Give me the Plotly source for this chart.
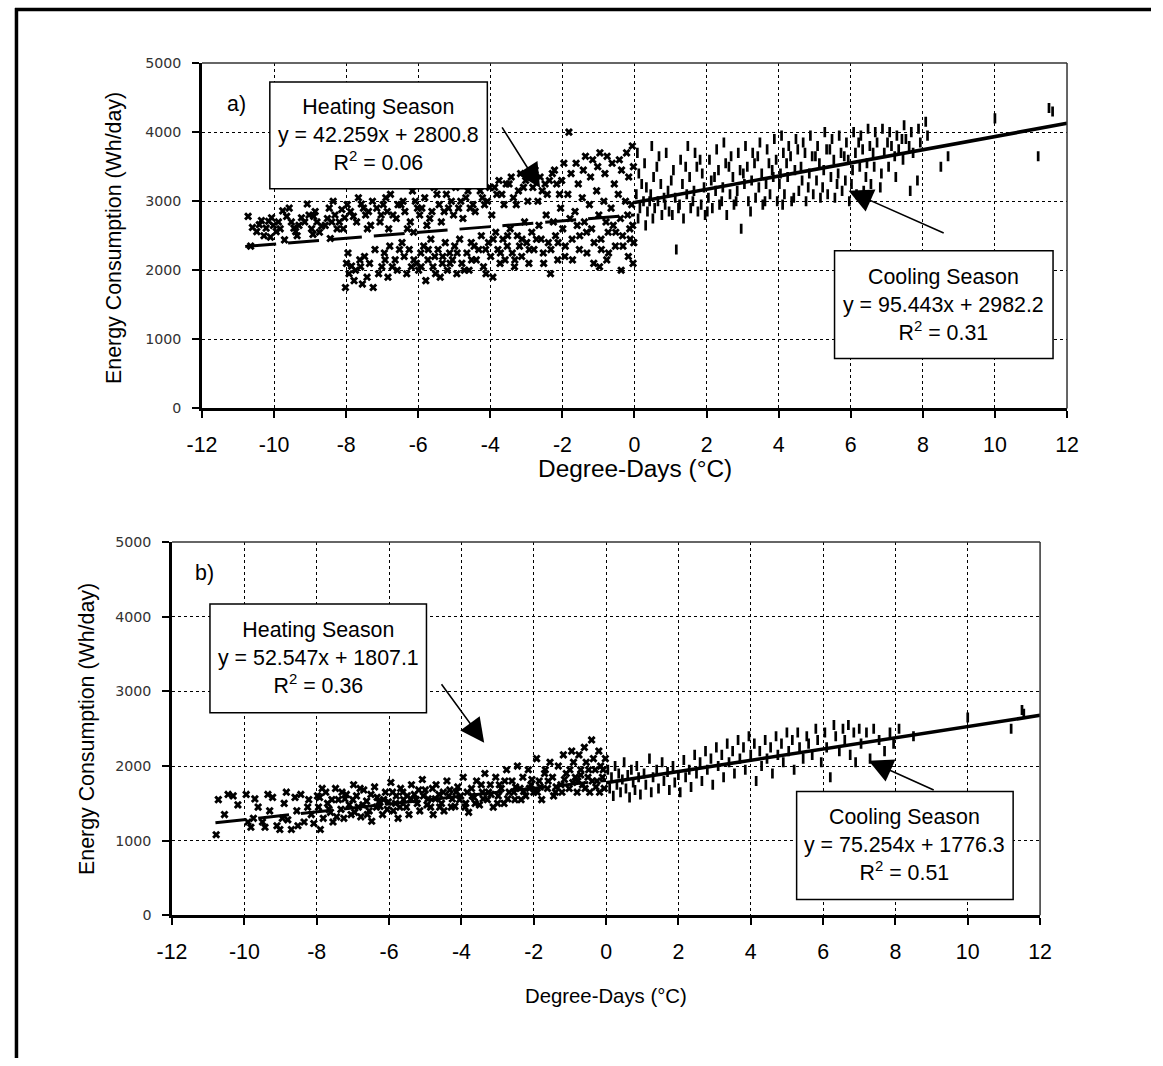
import plotly.graph_objects as go

W, H = 1163, 1066

# ---------------- data ----------------
heat_a = [(-10.72,2780),(-10.65,2350),(-10.48,2560),(-10.41,2660),(-10.22,2610),(-10.15,2710),(-10.28,2500),(-10.02,2650),(-9.94,2560),(-10.07,2760),(-9.83,2600),(-9.76,2860),(-9.71,2440),(-9.52,2700),(-9.45,2610),(-9.58,2900),(-9.31,2650),(-9.24,2760),(-9.36,2500),(-9.03,2800),(-8.96,2600),(-9.08,2960),(-8.92,2520),(-8.81,2700),(-8.74,2550),(-8.86,2850),(-8.52,2750),(-8.47,2900),(-8.58,2650),(-8.44,2460),(-8.31,2800),(-8.25,2600),(-8.36,3000),(-8.19,2700),(-8.04,2760),(-7.97,2950),(-8.08,2600),(-7.99,2100),(-8.02,1750),(-7.88,2850),(-7.85,2060),(-7.92,1950),(-7.71,2700),(-7.66,3050),(-7.74,2000),(-7.62,2150),(-7.52,2900),(-7.46,2800),(-7.55,1800),(-7.49,2200),(-7.41,2600),(-7.32,2650),(-7.27,3000),(-7.35,2100),(-7.25,1750),(-7.03,2800),(-6.97,2950),(-7.06,2700),(-6.94,2250),(-7.01,2050),(-6.82,2600),(-6.77,3100),(-6.86,2850),(-6.79,2350),(-6.84,1900),(-6.61,2750),(-6.56,2950),(-6.64,2150),(-6.58,2000),(-6.42,3000),(-6.37,2850),(-6.45,2400),(-6.39,2200),(-6.22,2700),(-6.16,3150),(-6.25,2300),(-6.19,2050),(-6.13,2550),(-6.02,2900),(-5.96,2800),(-6.05,2100),(-5.99,2000),(-5.93,2250),(-5.82,3050),(-5.76,2650),(-5.85,2350),(-5.79,1850),(-5.73,2150),(-5.62,2850),(-5.56,3200),(-5.65,2450),(-5.59,2050),(-5.54,2200),(-5.42,2950),(-5.36,2700),(-5.45,2300),(-5.39,1900),(-5.33,2100),(-5.22,3100),(-5.16,2900),(-5.25,2400),(-5.19,2000),(-5.13,2250),(-5.02,2800),(-4.96,3200),(-5.05,2150),(-4.99,2350),(-4.93,1950),(-4.82,3000),(-4.76,2750),(-4.85,2450),(-4.79,2100),(-4.62,3150),(-4.56,2900),(-4.65,2250),(-4.59,2000),(-4.53,2400),(-4.42,2850),(-4.36,3250),(-4.45,2350),(-4.39,2150),(-4.22,3050),(-4.16,2950),(-4.25,2500),(-4.19,2050),(-4.13,2300),(-4.02,3200),(-3.96,2800),(-4.05,2400),(-3.99,2200),(-3.93,1900),(-3.82,3100),(-3.76,3300),(-3.85,2550),(-3.79,2300),(-3.73,2100),(-3.62,2950),(-3.56,3250),(-3.65,2450),(-3.59,2150),(-3.53,2350),(-3.42,3350),(-3.36,3050),(-3.45,2600),(-3.39,2250),(-3.33,2050),(-3.22,3150),(-3.16,3400),(-3.25,2500),(-3.19,2350),(-3.13,2200),(-3.02,3300),(-2.96,3000),(-3.05,2700),(-2.99,2400),(-2.93,2100),(-2.82,3200),(-2.76,3450),(-2.85,2550),(-2.79,2300),(-2.62,3350),(-2.56,3150),(-2.65,2650),(-2.59,2450),(-2.53,2250),(-2.42,3100),(-2.36,3300),(-2.45,2800),(-2.39,2400),(-2.33,1950),(-2.22,3450),(-2.16,3250),(-2.25,2700),(-2.19,2500),(-2.13,2150),(-2.02,3300),(-1.96,3550),(-2.05,2900),(-1.99,2600),(-1.93,2200),(-1.82,4000),(-1.76,3400),(-1.85,3100),(-1.79,2750),(-1.73,2450),(-1.62,3550),(-1.56,3250),(-1.65,2850),(-1.59,2650),(-1.53,2300),(-1.42,3450),(-1.36,3650),(-1.45,3050),(-1.39,2700),(-1.33,2550),(-1.22,3350),(-1.16,3600),(-1.25,2950),(-1.19,2600),(-1.13,2100),(-1.02,3500),(-0.96,3700),(-1.05,3150),(-0.99,2800),(-0.93,2450),(-0.97,2050),(-0.82,3400),(-0.76,3650),(-0.85,3000),(-0.79,2700),(-0.73,2550),(-0.77,2150),(-0.62,3550),(-0.56,3250),(-0.65,2900),(-0.59,2650),(-0.53,2350),(-0.42,3600),(-0.36,3450),(-0.45,3100),(-0.39,2750),(-0.33,2500),(-0.37,2000),(-0.22,3700),(-0.16,3350),(-0.25,3000),(-0.19,2800),(-0.13,2600),(-0.17,2200),(-0.06,3800),(-0.03,3500),(-0.08,2950),(-0.05,2650),(-0.02,2400),(-0.04,2100),
          (-10.6,2620),(-10.35,2720),(-10.1,2480),(-9.88,2700),(-9.65,2780),(-9.4,2560),(-9.15,2700),(-8.9,2780),(-8.68,2640),(-8.4,2700),(-8.12,2880),(-7.8,2780),(-7.58,2960),(-7.38,2850),(-7.15,2900),(-6.9,3050),(-6.7,2800),(-6.48,2950),(-6.3,2600),(-6.08,3000),(-5.9,2900),(-5.68,2750),(-5.48,3100),(-5.28,2850),(-5.08,3000),(-4.88,2900),(-4.68,3050),(-4.48,2950),(-4.28,3150),(-4.08,3000),(-3.88,3200),(-3.68,3100),(-3.48,3250),(-3.28,2950),(-3.08,3200),(-2.88,3350),(-2.68,3000),(-2.48,3250),(-2.28,3400),(-2.08,3100),
          (-7.95,2250),(-7.78,1850),(-7.6,2050),(-7.42,1900),(-7.2,2300),(-7.1,1950),(-6.92,2150),(-6.72,2050),(-6.52,2300),(-6.32,1950),(-6.12,2150),(-5.92,2050),(-5.72,2300),(-5.52,1950),(-5.32,2200),(-5.12,2100),(-4.92,2250),(-4.72,2000),(-4.52,2150),(-4.32,2300),(-4.12,1950),(-3.92,2450),(-3.72,2250),(-3.52,2500),(-3.32,2150),(-3.12,2450),(-2.92,2300),(-2.72,2450),(-2.52,2100),(-2.32,2300),(-2.12,2400),(-1.92,2350),(-1.72,2150),(-1.52,2500),(-1.32,2250),(-1.12,2400),(-0.92,2300),(-0.72,2250),(-0.52,2550),(-0.32,2350),(-0.12,2450)]

cool_a = [(0.08,3700),(0.12,3400),(0.05,3100),(0.15,2900),(0.1,2750),(0.28,3550),(0.33,3200),(0.25,3000),(0.36,2850),(0.31,2650),(0.48,3800),(0.53,3350),(0.45,3100),(0.56,2900),(0.51,2750),(0.68,3650),(0.73,3250),(0.65,3000),(0.76,2800),(0.88,3700),(0.93,3150),(0.85,2950),(0.96,2850),(1.08,3450),(1.13,3050),(1.05,2800),(1.16,2300),(1.28,3600),(1.33,3250),(1.25,2950),(1.36,2750),(1.48,3800),(1.53,3350),(1.45,3100),(1.56,2900),(1.68,3700),(1.73,3500),(1.65,3150),(1.76,2850),(1.88,3400),(1.93,3200),(1.85,2950),(1.96,2800),(2.08,3600),(2.13,3300),(2.05,3050),(2.16,2900),(2.28,3750),(2.33,3450),(2.25,3150),(2.36,2950),(2.48,3850),(2.53,3550),(2.45,3200),(2.56,2800),(2.68,3650),(2.73,3350),(2.65,3100),(2.76,2950),(2.88,3700),(2.93,3450),(2.85,3150),(2.96,2600),(3.08,3800),(3.13,3500),(3.05,3250),(3.16,3000),(3.28,3700),(3.33,3550),(3.25,3300),(3.36,3050),(3.48,3850),(3.53,3400),(3.45,3200),(3.56,2950),(3.68,3750),(3.73,3550),(3.65,3250),(3.76,3100),(3.88,3900),(3.93,3600),(3.85,3350),(3.96,3000),(4.08,3950),(4.13,3700),(4.05,3400),(4.16,3100),(4.11,2950),(4.28,3800),(4.33,3650),(4.25,3350),(4.36,3000),(4.48,3900),(4.53,3750),(4.45,3450),(4.56,3150),(4.68,3850),(4.73,3700),(4.65,3300),(4.76,3000),(4.88,3950),(4.93,3650),(4.85,3400),(4.96,3100),(5.08,3800),(5.13,3550),(5.05,3300),(5.16,3050),(5.28,4000),(5.33,3750),(5.25,3450),(5.36,3100),(5.48,3900),(5.53,3600),(5.45,3350),(5.56,3050),(5.68,3950),(5.73,3700),(5.65,3400),(5.76,3150),(5.88,3850),(5.93,3600),(5.85,3300),(5.96,3000),(6.08,4000),(6.13,3700),(6.05,3450),(6.16,3100),(6.28,3950),(6.33,3750),(6.25,3500),(6.36,3150),(6.48,4050),(6.53,3800),(6.45,3550),(6.56,3250),(6.68,4000),(6.73,3850),(6.65,3500),(6.88,4050),(6.93,3700),(6.85,3400),(7.08,4000),(7.13,3800),(7.05,3500),(7.28,3950),(7.33,3750),(7.25,3350),(7.48,4100),(7.53,3900),(7.45,3600),(7.68,4000),(7.73,3700),(7.65,3150),(7.88,4050),(7.93,3850),(7.85,3300),(8.08,4150),(8.13,3950),(8.5,3500),(8.7,3650),(10.0,4200),(11.2,3650),(11.5,4350),(11.6,4300),
          (0.2,3250),(0.42,3000),(0.62,3500),(0.82,3050),(1.02,3300),(1.22,2900),(1.42,3500),(1.62,3000),(1.82,3600),(2.02,2850),(2.22,3350),(2.42,3000),(2.62,3500),(2.82,3000),(3.02,3400),(3.22,2850),(3.42,3650),(3.62,3000),(3.82,3450),(4.02,3250),(4.22,3550),(4.42,3050),(4.62,3500),(4.82,3200),(5.02,3650),(5.22,3200),(5.42,3750),(5.62,3250),(5.82,3650),(6.02,3250),(6.22,3850),(6.42,3350),(6.62,3700),(6.82,3200),(7.02,3850),(7.22,3650),(7.42,3900),(7.62,3800)]

heat_b = [(-10.78,1080),(-10.72,1550),(-10.55,1350),(-10.45,1620),(-10.31,1600),(-10.18,1480),(-9.95,1620),(-9.9,1250),(-9.82,1180),(-9.71,1560),(-9.62,1450),(-9.5,1250),(-9.43,1180),(-9.35,1620),(-9.22,1580),(-9.1,1200),(-9.02,1150),(-8.95,1300),(-8.84,1650),(-8.8,1280),(-8.7,1150),(-8.6,1580),(-8.52,1200),(-8.44,1620),(-8.35,1250),(-8.22,1550),(-8.15,1350),(-8.08,1230),(-7.98,1600),(-7.95,1450),(-7.9,1150),(-7.82,1300),(-7.75,1650),(-7.7,1500),(-7.62,1380),(-7.55,1250),(-7.48,1700),(-7.4,1550),(-7.33,1420),(-7.25,1300),(-7.18,1620),(-7.1,1480),(-7.05,1350),(-6.98,1750),(-6.9,1600),(-6.85,1450),(-6.78,1320),(-6.7,1680),(-6.62,1530),(-6.55,1400),(-6.48,1260),(-6.4,1720),(-6.33,1580),(-6.25,1460),(-6.18,1350),(-6.1,1650),(-6.02,1520),(-5.95,1780),(-5.88,1400),(-5.8,1600),(-5.75,1300),(-5.68,1700),(-5.6,1550),(-5.52,1450),(-5.45,1350),(-5.38,1750),(-5.3,1620),(-5.22,1500),(-5.15,1400),(-5.08,1820),(-5.0,1680),(-4.92,1560),(-4.85,1450),(-4.78,1350),(-4.7,1750),(-4.62,1620),(-4.55,1500),(-4.48,1400),(-4.4,1800),(-4.32,1680),(-4.25,1560),(-4.18,1460),(-4.1,1720),(-4.02,1600),(-3.95,1850),(-3.88,1500),(-3.8,1380),(-3.72,1700),(-3.65,1580),(-3.58,1800),(-3.5,1480),(-3.42,1650),(-3.35,1900),(-3.28,1550),(-3.2,1750),(-3.12,1450),(-3.05,1850),(-2.98,1600),(-2.9,1700),(-2.82,1500),(-2.75,1950),(-2.68,1650),(-2.6,1800),(-2.52,1550),(-2.45,2000),(-2.38,1700),(-2.3,1850),(-2.22,1600),(-2.15,1950),(-2.08,1750),(-2.0,1650),(-1.92,2100),(-1.85,1800),(-1.78,1550),(-1.7,1900),(-1.62,1700),(-1.55,2050),(-1.48,1850),(-1.4,1650),(-1.32,2000),(-1.25,1750),(-1.18,2150),(-1.1,1900),(-1.02,1700),(-0.95,2200),(-0.9,2050),(-0.85,1850),(-0.8,1650),(-0.75,2150),(-0.7,1950),(-0.65,1750),(-0.6,2250),(-0.55,2050),(-0.5,1850),(-0.45,1650),(-0.4,2350),(-0.35,2100),(-0.3,1950),(-0.25,1800),(-0.2,2200),(-0.15,2000),(-0.1,1850),(-0.05,1700),(-0.02,2100),
          (-7.92,1580),(-7.66,1420),(-7.45,1320),(-7.22,1560),(-6.95,1380),(-6.72,1480),(-6.5,1620),(-6.28,1520),(-6.05,1420),(-5.82,1500),(-5.62,1650),(-5.4,1560),(-5.18,1680),(-4.95,1480),(-4.72,1560),(-4.5,1650),(-4.28,1450),(-4.05,1550),(-3.84,1650),(-3.62,1500),(-3.4,1560),(-3.18,1620),(-2.95,1750),(-2.72,1560),(-2.5,1720),(-2.28,1660),(-2.05,1820),(-1.82,1720),(-1.6,1800),(-1.38,1720),(-1.15,1820),(-0.92,1780),(-0.7,1880),(-0.48,1950),(-0.28,1720),(-0.08,1950),
          (-9.75,1300),(-9.3,1400),(-8.9,1500),(-8.55,1400),(-8.25,1450),(-7.85,1700),(-7.58,1550),(-7.3,1650),(-7.0,1550),(-6.8,1700),(-6.6,1350),(-6.35,1450),(-6.15,1550),(-5.9,1650),(-5.7,1450),(-5.5,1600),(-5.25,1550),(-5.05,1600),(-4.8,1700),(-4.6,1450),(-4.35,1600),(-4.15,1650),(-3.9,1450),(-3.7,1600),(-3.45,1750),(-3.25,1650),(-3.0,1500),(-2.8,1800),(-2.55,1650),(-2.35,1550),(-2.12,1700),(-1.9,1650),(-1.68,1950),(-1.45,1600),(-1.22,1650),(-1.0,1950),(-0.78,1800),(-0.58,1700),(-0.38,1800),(-0.18,1650)]

cool_b = [(0.05,1950),(0.1,1700),(0.15,1850),(0.2,1600),(0.25,2000),(0.3,1750),(0.35,1900),(0.4,1650),(0.45,1820),(0.5,2050),(0.55,1700),(0.6,1880),(0.65,1580),(0.7,1950),(0.75,1780),(0.8,1680),(0.85,2000),(0.9,1850),(0.95,1620),(1.05,1900),(1.1,1750),(1.2,2100),(1.25,1650),(1.3,1850),(1.4,1950),(1.45,1700),(1.55,2050),(1.6,1800),(1.7,1920),(1.75,1680),(1.85,2000),(1.9,1780),(2.0,1880),(2.05,1650),(2.15,2080),(2.2,1850),(2.3,1950),(2.35,1720),(2.45,2150),(2.5,1900),(2.6,2050),(2.65,1800),(2.75,2200),(2.8,1950),(2.9,2100),(2.95,1750),(3.05,2250),(3.1,2000),(3.2,2150),(3.25,1850),(3.35,2300),(3.4,2050),(3.5,2200),(3.55,1900),(3.65,2350),(3.7,2100),(3.8,2250),(3.85,1950),(3.95,2400),(4.0,2150),(4.1,2300),(4.15,1800),(4.25,2200),(4.3,2000),(4.4,2350),(4.45,2100),(4.55,2250),(4.6,1900),(4.7,2400),(4.75,2150),(4.85,2300),(4.9,2050),(5.0,2450),(5.05,2200),(5.15,2350),(5.2,1950),(5.3,2450),(5.35,2250),(5.45,2100),(5.55,2400),(5.6,2300),(5.7,2150),(5.8,2500),(5.85,2350),(5.95,2050),(6.05,2450),(6.1,2250),(6.2,1850),(6.3,2550),(6.35,2400),(6.45,2200),(6.55,2500),(6.6,2350),(6.7,2550),(6.75,2150),(6.85,2450),(6.9,2050),(7.0,2500),(7.05,2300),(7.2,2450),(7.3,2100),(7.4,2500),(7.55,2350),(7.7,2200),(7.85,2450),(7.95,2300),(8.1,2500),(8.5,2400),(10.0,2650),(11.2,2500),(11.5,2750),(11.55,2700)]

# regression results printed on the chart: (slope, intercept, R2, x_start, x_end)
fit_heat_a = (42.259, 2800.8, 0.06, -10.8, 0.0)
fit_cool_a = (95.443, 2982.2, 0.31, 0.0, 12.0)
fit_heat_b = (52.547, 1807.1, 0.36, -10.8, 0.0)
fit_cool_b = (75.254, 1776.3, 0.51, 0.0, 12.0)

x_ticks = [-12, -10, -8, -6, -4, -2, 0, 2, 4, 6, 8, 10, 12]
y_ticks = [0, 1000, 2000, 3000, 4000, 5000]

# ---------------- layout helpers ----------------
# the captured page appears slightly shrunk and offset; compensate so that
# final pixel positions line up with the reference.
SX, CX = 0.979, 12.6
SY, CY = 0.987, 6.8
K = 1 / ((SX + SY) / 2)

def px_x(p):
    return ((p - CX) / SX) / W

def px_y(p):
    return 1 - ((p - CY) / SY) / H

FONT = "Liberation Sans, Arial, sans-serif"

fig = go.Figure()

def fit_line(fit, xa, ya, dash, width):
    m, b, r2, x0, x1 = fit
    xs = [x0, x1]
    ys = [m * x + b for x in xs]
    return go.Scatter(x=xs, y=ys, mode="lines", xaxis=xa, yaxis=ya,
                      line=dict(color="black", width=width, dash=dash),
                      showlegend=False, hoverinfo="skip")

def pts(data, xa, ya, kind):
    xs = [p[0] for p in data]
    ys = [p[1] for p in data]
    if kind == "heat":
        mk = dict(symbol="x", size=7.2, color="black", line=dict(width=0))
    else:
        mk = dict(symbol="line-ns", size=7.2, color="black",
                  line=dict(width=2.7, color="black"))
    return go.Scatter(x=xs, y=ys, mode="markers", xaxis=xa, yaxis=ya,
                      marker=mk, showlegend=False)

# panel a (dashed heating trend drawn over the points, as in the reference)
fig.add_trace(pts(heat_a, "x", "y", "heat"))
fig.add_trace(pts(cool_a, "x", "y", "cool"))
fig.add_trace(fit_line(fit_heat_a, "x", "y", "31px,12px", 3))
fig.add_trace(fit_line(fit_cool_a, "x", "y", "solid", 3.6))
# panel b (dashed heating trend mostly hidden by the dense cloud)
fig.add_trace(fit_line(fit_heat_b, "x2", "y2", "31px,12px", 3))
fig.add_trace(pts(heat_b, "x2", "y2", "heat"))
fig.add_trace(pts(cool_b, "x2", "y2", "cool"))
fig.add_trace(fit_line(fit_cool_b, "x2", "y2", "solid", 3.6))

def xaxis(domain, anchor):
    return dict(domain=domain, anchor=anchor, range=[-12, 12],
                tickmode="array", tickvals=x_ticks,
                ticktext=[str(v) for v in x_ticks],
                ticks="outside", ticklen=7, tickwidth=2, tickcolor="black",
                showline=True, linewidth=2.5, linecolor="black",
                showgrid=True, gridcolor="black", griddash="dot", gridwidth=1,
                zeroline=False, ticklabelstandoff=8,
                tickfont=dict(family=FONT, size=21 * K, color="black"))

def yaxis(domain, anchor):
    return dict(domain=domain, anchor=anchor, range=[0, 5000],
                tickmode="array", tickvals=y_ticks,
                ticktext=[str(v) for v in y_ticks],
                ticks="outside", ticklen=7, tickwidth=2, tickcolor="black",
                showline=True, linewidth=2.5, linecolor="black",
                showgrid=True, gridcolor="black", griddash="dot", gridwidth=1,
                zeroline=False, ticklabelstandoff=8,
                tickfont=dict(family="DejaVu Sans", size=14 * K, color="#333"))

fig.update_layout(
    width=W, height=H,
    margin=dict(l=0, r=0, t=0, b=0),
    paper_bgcolor="white", plot_bgcolor="white",
    showlegend=False,
    xaxis=xaxis([px_x(200), px_x(1067)], "y"),
    yaxis=yaxis([px_y(408), px_y(62)], "x"),
    xaxis2=xaxis([px_x(170), px_x(1040)], "y2"),
    yaxis2=yaxis([px_y(916), px_y(542)], "x2"),
)

shapes = []
# top / right frame of each plot
for xr, yr in (("x", "y"), ("x2", "y2")):
    shapes.append(dict(type="line", xref=f"{xr} domain", yref=f"{yr} domain",
                       x0=0, x1=1, y0=1, y1=1, line=dict(color="#333", width=1.5)))
    shapes.append(dict(type="line", xref=f"{xr} domain", yref=f"{yr} domain",
                       x0=1, x1=1, y0=0, y1=1, line=dict(color="#333", width=1.5)))
# page frame (top & left), kept just inside the canvas
shapes.append(dict(type="line", xref="paper", yref="paper", x0=0, x1=1,
                   y0=1 - 1.5 / H, y1=1 - 1.5 / H, line=dict(color="black", width=3.5)))
shapes.append(dict(type="line", xref="paper", yref="paper", x0=1.5 / W, x1=1.5 / W,
                   y0=1, y1=0, line=dict(color="black", width=3.5)))

# text boxes (pixel positions)
boxes = [
    (268, 81, 486, 188, "Heating Season", fit_heat_a),
    (834, 250, 1053, 358, "Cooling Season", fit_cool_a),
    (208, 604, 425, 713, "Heating Season", fit_heat_b),
    (796, 792, 1013, 900, "Cooling Season", fit_cool_b),
]
annotations = []
for x0, y0, x1, y1, title, fit in boxes:
    shapes.append(dict(type="rect", xref="paper", yref="paper", layer="above",
                       x0=px_x(x0), x1=px_x(x1), y0=px_y(y1), y1=px_y(y0),
                       fillcolor="white", line=dict(color="black", width=1.5)))
    m, b, r2, _, _ = fit
    txt = f"{title}<br>y = {m:.3f}x + {b:.1f}<br>R<sup>2</sup> = {r2:.2f}"
    annotations.append(dict(xref="paper", yref="paper", x=px_x((x0 + x1) / 2),
                            y=px_y((y0 + y1) / 2), text=txt, showarrow=False,
                            xanchor="center", yanchor="middle", align="center",
                            font=dict(family=FONT, size=21 * K, color="black")))

fig.update_layout(shapes=shapes)

# panel labels
annotations.append(dict(xref="paper", yref="paper", x=px_x(235), y=px_y(103),
                        text="a)", showarrow=False, xanchor="center", yanchor="middle",
                        font=dict(family=FONT, size=21 * K, color="black")))
annotations.append(dict(xref="paper", yref="paper", x=px_x(203), y=px_y(573),
                        text="b)", showarrow=False, xanchor="center", yanchor="middle",
                        font=dict(family=FONT, size=21 * K, color="black")))

# axis titles
annotations.append(dict(xref="paper", yref="paper", x=px_x(634), y=px_y(468),
                        text="Degree-Days (°C)", showarrow=False, xanchor="center",
                        yanchor="middle", font=dict(family=FONT, size=24 * K, color="black")))
annotations.append(dict(xref="paper", yref="paper", x=px_x(605), y=px_y(997),
                        text="Degree-Days (°C)", showarrow=False, xanchor="center",
                        yanchor="middle", font=dict(family=FONT, size=20 * K, color="black")))
annotations.append(dict(xref="paper", yref="paper", x=px_x(112), y=px_y(237),
                        text="Energy Consumption (Wh/day)", showarrow=False, textangle=-90,
                        xanchor="center", yanchor="middle",
                        font=dict(family=FONT, size=21 * K, color="black")))
annotations.append(dict(xref="paper", yref="paper", x=px_x(84), y=px_y(729),
                        text="Energy Consumption (Wh/day)", showarrow=False, textangle=-90,
                        xanchor="center", yanchor="middle",
                        font=dict(family=FONT, size=21 * K, color="black")))

# arrows (tip, tail) in data coordinates
arrows = [
    ("x", "y", -2.62, 3194, -3.70, 4090),
    ("x", "y", 5.94, 3150, 8.62, 2529),
    ("x2", "y2", -3.37, 2313, -4.58, 3115),
    ("x2", "y2", 7.26, 2072, 9.10, 1671),
]
for xr, yr, xt, yt, xs, ys in arrows:
    annotations.append(dict(xref=xr, yref=yr, axref=xr, ayref=yr,
                            x=xt, y=yt, ax=xs, ay=ys, text="", showarrow=True,
                            arrowhead=2, arrowsize=3, arrowwidth=1.6,
                            arrowcolor="black"))

fig.update_layout(annotations=annotations)

fig.write_html("out.html", config={"displayModeBar": False},
               post_script="document.body.style.margin='0';document.body.style.overflow='hidden';")
